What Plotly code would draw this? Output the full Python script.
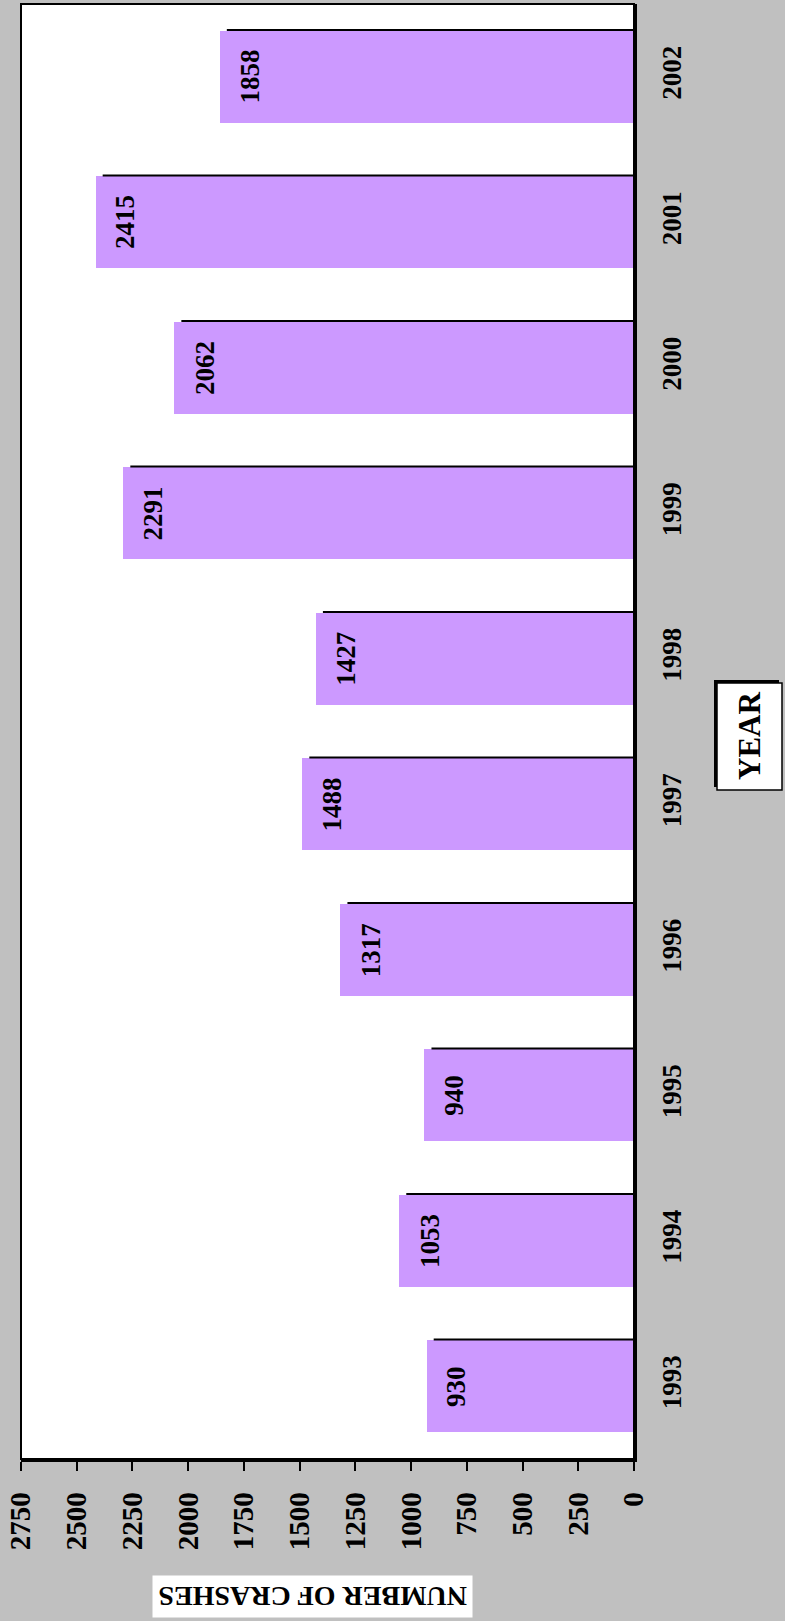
import plotly.graph_objects as go

# ---- data ----
years = ["1993", "1994", "1995", "1996", "1997", "1998", "1999", "2000", "2001", "2002"]
crashes = [930, 1053, 940, 1317, 1488, 1427, 2291, 2062, 2415, 1858]
value_ticks = [0, 250, 500, 750, 1000, 1250, 1500, 1750, 2000, 2250, 2500, 2750]
value_title = "NUMBER OF CRASHES"
category_title = "YEAR"

# ---- layout geometry (pixels) ----
W, H = 785, 1621
L, R, T, B = 21, 151, 4, 162
PW = W - L - R
PH = H - T - B
VMAX = 2750
BAR_W = 0.632
FONT = "Liberation Serif, Times New Roman, serif"
BAR_COLOR = "#CC99FF"

pos = list(range(len(years)))
px_per_unit = PW / VMAX

fig = go.Figure()

fig.add_trace(go.Bar(
    x=crashes, y=pos, orientation="h", width=BAR_W,
    marker=dict(color=BAR_COLOR, line=dict(width=0)),
    hoverinfo="skip", showlegend=False,
))

# thin dark edge along the top side of each bar
lx, ly = [], []
inset = 7 / px_per_unit
for p, v in zip(pos, crashes):
    yy = p + BAR_W / 2 + 0.006
    lx += [v - inset, 0, None]
    ly += [yy, yy, None]
fig.add_trace(go.Scatter(
    x=lx, y=ly, mode="lines", line=dict(color="black", width=2),
    hoverinfo="skip", showlegend=False,
))

annotations = []
for p, v in zip(pos, crashes):
    annotations.append(dict(
        x=v, y=p, xref="x", yref="y", text=str(v), showarrow=False,
        textangle=-90, xshift=30,
        font=dict(family=FONT, size=27, color="black", weight="bold"),
    ))


def paper_x(px):
    return (px - L) / PW


def paper_y(py):
    return (T + PH - py) / PH


# value-axis title (upside down, white box)
annotations.append(dict(
    x=paper_x(313), y=paper_y(1597), xref="paper", yref="paper",
    text=value_title, showarrow=False, textangle=180,
    font=dict(family=FONT, size=28, color="black", weight="bold"),
    bgcolor="white", borderpad=5, xanchor="center", yanchor="middle",
))

shapes = [
    # plot frame (thin top/left)
    dict(type="rect", xref="paper", yref="paper", x0=0, x1=1, y0=0, y1=1,
         line=dict(color="black", width=2), layer="above"),
    # YEAR box shadow
    dict(type="rect", xref="paper", yref="paper",
         x0=paper_x(714), x1=paper_x(779), y0=paper_y(787), y1=paper_y(680),
         fillcolor="black", line=dict(width=0)),
    # YEAR box
    dict(type="rect", xref="paper", yref="paper",
         x0=paper_x(717), x1=paper_x(782), y0=paper_y(790), y1=paper_y(683),
         fillcolor="white", line=dict(color="black", width=1.5)),
]

annotations.append(dict(
    x=paper_x(749.5), y=paper_y(736.5), xref="paper", yref="paper",
    text=category_title, showarrow=False, textangle=-90,
    font=dict(family=FONT, size=31, color="black", weight="bold"),
    xanchor="center", yanchor="middle",
))

fig.update_layout(
    width=W, height=H,
    margin=dict(l=L, r=R, t=T, b=B, pad=0),
    paper_bgcolor="#C0C0C0", plot_bgcolor="white",
    showlegend=False, bargap=0,
    annotations=annotations, shapes=shapes,
    xaxis=dict(
        range=[VMAX, 0], tickvals=value_ticks, ticktext=[str(t) for t in value_ticks],
        tickangle=-90, ticks="outside", ticklen=9, tickwidth=2, tickcolor="black",
        showline=True, linecolor="black", linewidth=2.5,
        showgrid=False, zeroline=False, ticklabelstandoff=10,
        tickfont=dict(family=FONT, size=29, color="black", weight="bold"),
        fixedrange=True,
    ),
    yaxis=dict(
        range=[-0.5, len(years) - 0.5], tickvals=pos, ticktext=years,
        side="right", tickangle=-90, ticks="",
        showline=True, linecolor="black", linewidth=2.5,
        showgrid=False, zeroline=False, ticklabelstandoff=12,
        tickfont=dict(family=FONT, size=27, color="black", weight="bold"),
        fixedrange=True,
    ),
)

fig.write_html("out.html", config={"displayModeBar": False},
               post_script="document.body.style.margin='0';")
